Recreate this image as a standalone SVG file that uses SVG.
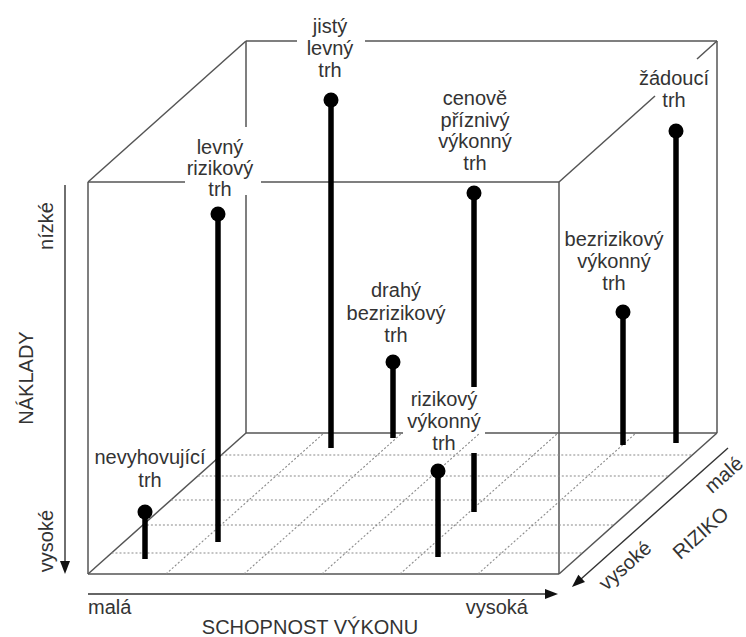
<svg xmlns="http://www.w3.org/2000/svg" width="746" height="637" viewBox="0 0 746 637">
<style>
.box{stroke:#555;stroke-width:1.5;fill:none}
.grid{stroke:#8a8a8a;stroke-width:1.1;stroke-dasharray:2 2;fill:none}
.axis{stroke:#333;stroke-width:1.4;fill:none}
.head{fill:#111}
.pole{stroke:#000;stroke-width:5.5;fill:none}
.dot{fill:#000}
text{font-family:"Liberation Sans",Arial,sans-serif;font-size:20px;fill:#333}
.c{text-anchor:middle}
</style>
<rect width="746" height="637" fill="#fff"/>
<g id="box">
<line class="box" x1="246" y1="41" x2="297" y2="41"/>
<line class="box" x1="365" y1="41" x2="717" y2="41"/>
<line class="box" x1="717" y1="41" x2="717" y2="433"/>
<line class="box" x1="246" y1="41" x2="246" y2="127"/>
<line class="box" x1="246" y1="195" x2="246" y2="433"/>
<line class="box" x1="246" y1="433" x2="403" y2="433"/>
<line class="box" x1="485" y1="433" x2="717" y2="433"/>
<line class="box" x1="88" y1="182" x2="246" y2="41"/>
<line class="box" x1="717" y1="41" x2="697" y2="59"/>
<line class="box" x1="655" y1="96" x2="559" y2="182"/>
<line class="box" x1="88" y1="574" x2="246" y2="433"/>
<line class="box" x1="559" y1="574" x2="717" y2="433"/>
<line class="box" x1="88" y1="182" x2="185" y2="182"/>
<line class="box" x1="261" y1="182" x2="559" y2="182"/>
<line class="box" x1="88" y1="182" x2="88" y2="574"/>
<line class="box" x1="559" y1="182" x2="559" y2="574"/>
<line class="box" x1="88" y1="574" x2="559" y2="574"/>
</g>
<g id="floor-grid">
<line class="grid" x1="221.3" y1="455" x2="692.3" y2="455"/>
<line class="grid" x1="197.8" y1="476" x2="668.8" y2="476"/>
<line class="grid" x1="170.9" y1="500" x2="641.9" y2="500"/>
<line class="grid" x1="142.9" y1="525" x2="613.9" y2="525"/>
<line class="grid" x1="111.5" y1="553" x2="582.5" y2="553"/>
<line class="grid" x1="166" y1="574" x2="324" y2="433"/>
<line class="grid" x1="244" y1="574" x2="402" y2="433"/>
<line class="grid" x1="322" y1="574" x2="480" y2="433"/>
<line class="grid" x1="400" y1="574" x2="558" y2="433"/>
<line class="grid" x1="478" y1="574" x2="636" y2="433"/>
</g>
<g id="connectors">
<line class="axis" x1="65" y1="185" x2="65" y2="563"/>
<polygon class="head" points="60,561 70,561 65,574"/>
<line class="axis" x1="88" y1="594" x2="547" y2="594"/>
<polygon class="head" points="545,589 545,599 558,594"/>
<g transform="translate(728,448) rotate(-41.7)">
<line class="axis" x1="0" y1="0" x2="-198" y2="0"/>
<polygon class="head" points="-209,0 -196,-5 -196,5"/>
</g>
</g>
<g id="axis-labels">
<text class="c" transform="translate(33,378) rotate(-90)">NÁKLADY</text>
<text class="c" transform="translate(53,226) rotate(-90)">nízké</text>
<text class="c" transform="translate(53,541) rotate(-90)">vysoké</text>
<text x="88" y="614">malá</text>
<text x="528" y="614" text-anchor="end">vysoká</text>
<text class="c" x="310" y="634">SCHOPNOST VÝKONU</text>
<g transform="translate(728,448) rotate(-41.7)">
<text class="c" x="-155" y="26">vysoké</text>
<text class="c" x="-77" y="52">RIZIKO</text>
<text class="c" x="-21" y="24">malé</text>
</g>
</g>
<g id="jisty-levny-trh">
<line class="pole" x1="331" y1="100" x2="331" y2="448"/>
<circle class="dot" cx="331" cy="100" r="7.5"/>
<text class="c" x="330" y="33">jistý</text>
<text class="c" x="330" y="55">levný</text>
<text class="c" x="330" y="77">trh</text>
</g>
<g id="levny-rizikovy-trh">
<line class="pole" x1="218" y1="214" x2="218" y2="542"/>
<circle class="dot" cx="218" cy="214" r="7.5"/>
<text class="c" x="220" y="154">levný</text>
<text class="c" x="220" y="175">rizikový</text>
<text class="c" x="220" y="196">trh</text>
</g>
<g id="cenove-priznivy-vykonny-trh">
<line class="pole" x1="474" y1="193" x2="474" y2="387"/>
<line class="pole" x1="474" y1="453" x2="474" y2="512"/>
<circle class="dot" cx="474" cy="193" r="7.5"/>
<text class="c" x="475" y="105">cenově</text>
<text class="c" x="475" y="127">příznivý</text>
<text class="c" x="475" y="148">výkonný</text>
<text class="c" x="475" y="170">trh</text>
</g>
<g id="zadouci-trh">
<line class="pole" x1="676" y1="131" x2="676" y2="443"/>
<circle class="dot" cx="676" cy="131" r="7.5"/>
<text class="c" x="674" y="85">žádoucí</text>
<text class="c" x="674" y="107">trh</text>
</g>
<g id="bezrizikovy-vykonny-trh">
<line class="pole" x1="623" y1="312" x2="623" y2="445"/>
<circle class="dot" cx="623" cy="312" r="7.5"/>
<text class="c" x="614" y="246">bezrizikový</text>
<text class="c" x="614" y="268">výkonný</text>
<text class="c" x="614" y="290">trh</text>
</g>
<g id="drahy-bezrizikovy-trh">
<line class="pole" x1="393" y1="362" x2="393" y2="438"/>
<circle class="dot" cx="393" cy="362" r="7.5"/>
<text class="c" x="396" y="297">drahý</text>
<text class="c" x="396" y="320">bezrizikový</text>
<text class="c" x="396" y="342">trh</text>
</g>
<g id="rizikovy-vykonny-trh">
<line class="pole" x1="438" y1="471" x2="438" y2="557"/>
<circle class="dot" cx="438" cy="471" r="7.5"/>
<text class="c" x="444" y="406">rizikový</text>
<text class="c" x="444" y="428">výkonný</text>
<text class="c" x="444" y="450">trh</text>
</g>
<g id="nevyhovujici-trh">
<line class="pole" x1="145" y1="512" x2="145" y2="559"/>
<circle class="dot" cx="145" cy="512" r="7.5"/>
<text class="c" x="150" y="464">nevyhovující</text>
<text class="c" x="150" y="487">trh</text>
</g>
</svg>
